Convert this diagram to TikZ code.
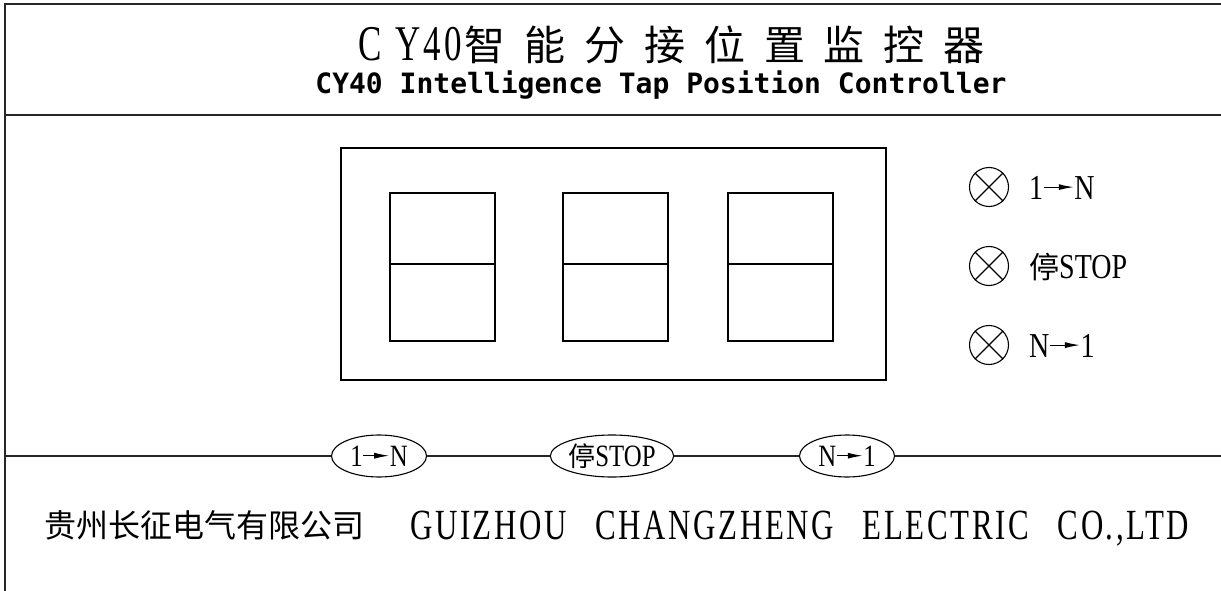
\documentclass[tikz,border=0pt]{standalone}
\usepackage{fontspec}
\setmainfont{Liberation Serif}
\newfontfamily\cjk{Noto Sans CJK SC}
\newfontfamily\cjkwide[LetterSpace=46]{Noto Sans CJK SC}
\newfontfamily\titleserif[FakeStretch=0.7,LetterSpace=6]{Liberation Serif}
\newfontfamily\lblserif[FakeStretch=0.8]{Liberation Serif}
\newfontfamily\corpserif[FakeStretch=0.72,LetterSpace=6]{Liberation Serif}
\newfontfamily\monosans{DejaVu Sans Mono}
\usetikzlibrary{arrows.meta,shapes.geometric}

% filled arrow used in the labels (1 -> N)
\newcommand\tapar[1][30pt]{\tikz[baseline=-0.74ex]\draw[line width=1.1pt,-{Latex[length=15pt,width=6pt]}] (0pt,0pt) -- (#1,0pt);}

\tikzset{
  rule/.style={line width=1.3pt, black!85},
  lamp/.style={circle, draw, line width=1.1pt, minimum size=39pt, inner sep=0pt},
  lamplbl/.style={anchor=base west, inner sep=0pt, font=\lblserif\fontsize{35}{35}\selectfont},
  button/.style={ellipse, draw, line width=1.1pt, minimum width=95pt, minimum height=42pt, inner sep=0pt,
    font=\lblserif\fontsize{31}{31}\selectfont},
}

\begin{document}
\begin{tikzpicture}[x=1pt, y=-1pt]
  \useasboundingbox (0,0) rectangle (1221,591);

  % frame
  \coordinate (tl) at (5,4);
  \coordinate (tr) at (1221,4);
  \coordinate (bl) at (5,591);
  \draw[rule] (tr) -- (tl) -- (bl);
  \coordinate (hl) at (5,115);
  \coordinate (hr) at (1221,115);
  \draw[rule] (hl) -- (hr);

  % title
  \node[anchor=base west, inner sep=0pt] (title) at (358,61)
    {{\titleserif\fontsize{50}{50}\selectfont C\hspace{14pt}Y40\hspace{3pt}}{\cjkwide\fontsize{41}{41}\selectfont 智能分接位置监控器}};
  \node[anchor=base, inner sep=0pt, font=\monosans\bfseries\fontsize{28}{28}\selectfont] (subtitle) at (661,94)
    {CY40 Intelligence Tap Position Controller};

  % display window
  \draw[line width=1.2pt] (341,148) rectangle (886,380);
  \foreach \x in {390,563,728}{
    \draw[line width=1.2pt] (\x,193) rectangle ++(105,148);
    \draw[line width=1.2pt] (\x,264) -- ++(105,0);
  }

  % lamps
  \node[lamp] (lampup) at (989,187) {};
  \node[lamp] (lampstop) at (989,266) {};
  \node[lamp] (lampdown) at (989,345) {};
  \foreach \l in {lampup,lampstop,lampdown}
    \draw[line width=1.1pt] (\l.north west) -- (\l.south east) (\l.north east) -- (\l.south west);
  \node[lamplbl] (lblup) at (1029,199) {1\tapar N};
  \node[lamplbl] (lblstop) at (1029,278) {{\cjk\fontsize{30}{30}\selectfont 停}STOP};
  \node[lamplbl] (lbldown) at (1029,357) {N\tapar 1};

  % buttons on the panel line
  \coordinate (bl1) at (5,456);
  \coordinate (br1) at (1221,456);
  \node[button] (btnup) at (379,456) {1\tapar[26pt]N};
  \node[button] (btnstop) at (612,456) {{\cjk\fontsize{27}{27}\selectfont 停}STOP};
  \node[button] (btndown) at (847,456) {N\tapar[26pt]1};
  \draw[rule] (bl1) -- (btnup);
  \draw[rule] (btnup) -- (btnstop);
  \draw[rule] (btnstop) -- (btndown);
  \draw[rule] (btndown) -- (br1);

  % maker
  \node[anchor=base west, inner sep=0pt, font=\cjk\fontsize{32}{32}\selectfont] (makercn) at (44,537) {贵州长征电气有限公司};
  \node[anchor=base west, inner sep=0pt, font=\corpserif\fontsize{43}{43}\selectfont] (makeren) at (410,539)
    {GUIZHOU\hspace{29pt}CHANGZHENG\hspace{29pt}ELECTRIC\hspace{29pt}CO.,LTD};
\end{tikzpicture}
\end{document}
